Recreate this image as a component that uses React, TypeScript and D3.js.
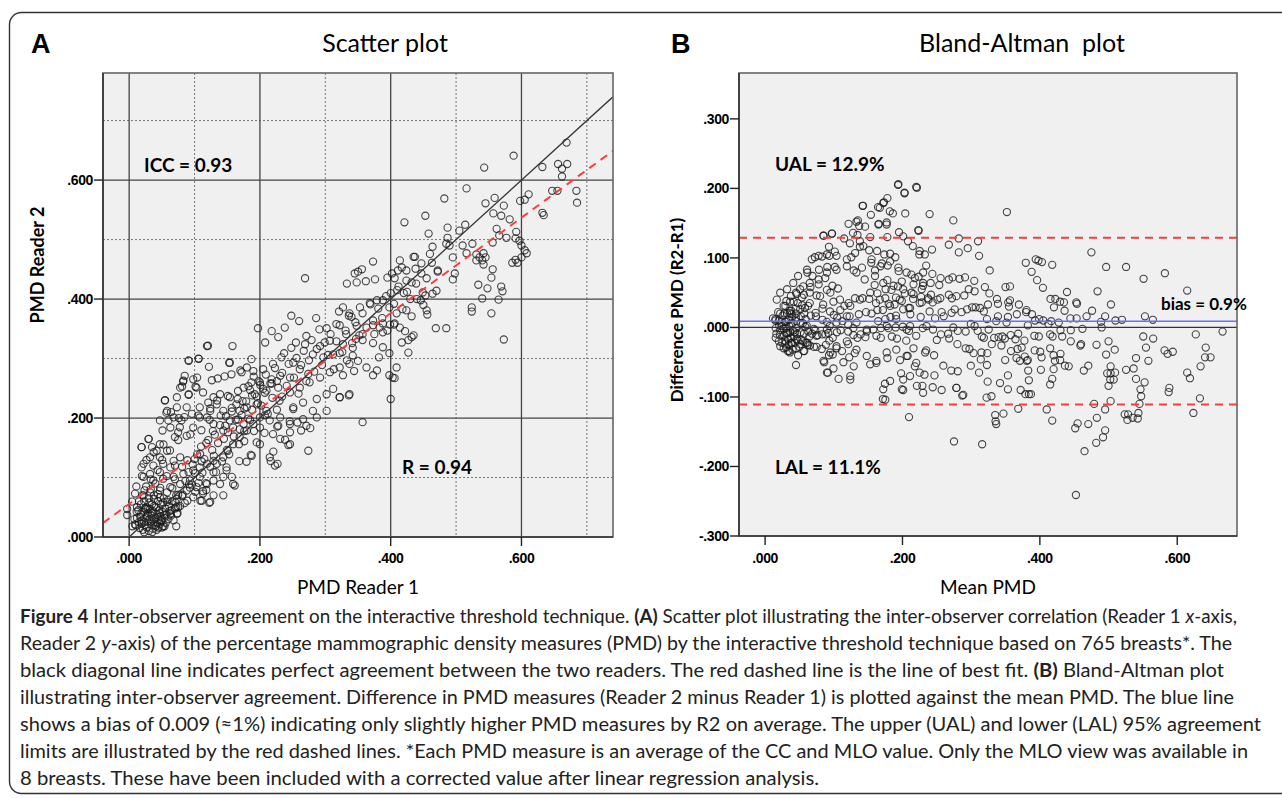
import React from "react";
import * as d3 from "d3";

// ---------------- DATA ----------------
// Panel A readings: [PMD Reader 1, PMD Reader 2]
const lowCluster: number[][] = [
  [0.010,0.020],[0.012,0.032],[0.014,0.045],[0.015,0.025],[0.016,0.015],[0.018,0.038],[0.018,0.055],[0.020,0.028],[0.021,0.012],[0.022,0.042],
  [0.023,0.060],[0.024,0.020],[0.025,0.033],[0.026,0.050],[0.027,0.016],[0.028,0.026],[0.029,0.040],[0.030,0.065],[0.030,0.010],[0.031,0.030],
  [0.032,0.047],[0.033,0.022],[0.034,0.036],[0.035,0.055],[0.036,0.014],[0.036,0.028],[0.037,0.043],[0.038,0.070],[0.039,0.020],[0.040,0.033],
  [0.041,0.050],[0.042,0.025],[0.043,0.038],[0.044,0.060],[0.045,0.016],[0.045,0.030],[0.046,0.045],[0.047,0.022],[0.048,0.035],[0.049,0.055],
  [0.050,0.028],[0.051,0.042],[0.052,0.018],[0.053,0.065],[0.054,0.032],[0.055,0.048],[0.056,0.024],[0.057,0.038],[0.058,0.075],[0.060,0.030],
  [0.061,0.052],[0.062,0.044],[0.064,0.036],[0.066,0.060],[0.068,0.028],[0.070,0.048],[0.072,0.070],[0.074,0.040],[0.020,0.070],[0.026,0.085],
  [0.015,0.060],[0.008,0.030],[0.012,0.050],[0.005,0.018],[0.033,0.080],[0.040,0.090],[0.019,0.022],[0.027,0.035],[0.034,0.026],[0.041,0.018],
  [0.047,0.040],[0.024,0.048],[0.031,0.058],[0.038,0.052],[0.044,0.072],[0.052,0.058],[0.059,0.062],[0.065,0.045],[0.071,0.058],[0.017,0.034],
  [0.023,0.008],[0.029,0.048],[0.035,0.040],[0.042,0.012],[0.049,0.026],[0.050,0.016]
];
const leftMid: number[][] = [
  [0.030,0.165],[0.019,0.151],[0.035,0.151],[0.047,0.156],[0.042,0.145],[0.058,0.145],[0.047,0.134],[0.032,0.134],[0.022,0.123],[0.037,0.120],
  [0.052,0.123],[0.068,0.128],[0.078,0.134],[0.063,0.117],[0.047,0.109],[0.032,0.106],[0.022,0.101],[0.037,0.095],[0.052,0.098],[0.068,0.101],
  [0.083,0.106],[0.098,0.112],[0.108,0.117],[0.119,0.123],[0.129,0.128],[0.108,0.101],[0.093,0.095],[0.078,0.089],[0.063,0.084],[0.047,0.078],
  [0.032,0.075],[0.022,0.070],[0.088,0.078],[0.103,0.084],[0.119,0.089],[0.129,0.095],[0.113,0.073],[0.098,0.067],[0.073,0.064],[0.058,0.059],
  [0.075,0.050],[0.063,0.039],[0.047,0.067],[0.073,0.039],[0.072,0.018],[0.144,0.070],[0.124,0.059],[0.111,0.061],[0.159,0.089],[0.144,0.101]
];
const upperLeft: number[][] = [
  [0.055,0.230],[0.083,0.263],[0.078,0.251],[0.091,0.240],[0.103,0.251],[0.113,0.243],[0.098,0.265],[0.085,0.271],[0.073,0.235],[0.058,0.212],
  [0.068,0.201],[0.080,0.196],[0.096,0.207],[0.108,0.218],[0.121,0.226],[0.108,0.201],[0.088,0.218],[0.073,0.218],[0.047,0.196],[0.063,0.184],
  [0.075,0.176],[0.088,0.170],[0.098,0.184],[0.119,0.321],[0.158,0.321],[0.091,0.296],[0.106,0.300],[0.154,0.293]
];
const midBand: number[][] = [
  [0.210,0.212],[0.200,0.201],[0.190,0.190],[0.180,0.179],[0.169,0.168],[0.159,0.156],[0.151,0.145],[0.144,0.134],[0.134,0.123],[0.149,0.112],
  [0.157,0.101],[0.139,0.089],[0.129,0.070],[0.169,0.212],[0.154,0.196],[0.144,0.212],[0.134,0.223],[0.129,0.235],[0.139,0.240],[0.154,0.235],
  [0.164,0.223],[0.180,0.218],[0.195,0.223],[0.124,0.212],[0.119,0.201],[0.129,0.190],[0.144,0.179],[0.159,0.184],[0.175,0.190],[0.200,0.184],
  [0.215,0.196],[0.231,0.201],[0.246,0.190],[0.200,0.156]
];
const denseBand: number[][] = [
  [0.078,0.052],[0.082,0.071],[0.086,0.094],[0.089,0.061],[0.093,0.083],[0.097,0.122],[0.101,0.076],[0.104,0.139],[0.106,0.091],[0.110,0.152],
  [0.112,0.108],[0.115,0.131],[0.118,0.079],[0.121,0.163],[0.124,0.118],[0.127,0.146],[0.131,0.172],[0.133,0.109],[0.136,0.158],[0.139,0.188],
  [0.142,0.127],[0.145,0.165],[0.148,0.203],[0.151,0.176],[0.153,0.139],[0.157,0.211],[0.160,0.169],[0.163,0.197],[0.166,0.232],[0.169,0.181],
  [0.172,0.205],[0.176,0.161],[0.179,0.228],[0.182,0.199],[0.185,0.247],[0.188,0.214],[0.191,0.178],[0.195,0.236],[0.198,0.262],[0.202,0.221],
  [0.205,0.249],[0.209,0.273],[0.212,0.207],[0.216,0.258],[0.219,0.234],[0.223,0.284],[0.226,0.262],[0.230,0.229],[0.234,0.276],[0.237,0.309],
  [0.241,0.254],[0.244,0.291],[0.248,0.318],[0.252,0.268],[0.256,0.301],[0.259,0.241],[0.263,0.289],[0.267,0.313],[0.271,0.262],[0.275,0.297],
  [0.279,0.331],[0.283,0.278],[0.287,0.316],[0.291,0.349],[0.295,0.289],[0.299,0.327],[0.304,0.306],[0.308,0.341],[0.313,0.282],[0.317,0.329],
  [0.322,0.356],[0.326,0.311],[0.331,0.347],[0.336,0.372],[0.341,0.326],[0.346,0.361],[0.352,0.339],[0.357,0.376],[0.363,0.352],[0.369,0.391],
  [0.375,0.341],[0.381,0.384],[0.387,0.368],[0.393,0.405],[0.399,0.357],[0.405,0.392],[0.412,0.421],[0.418,0.383],[0.425,0.412],[0.432,0.371],
  [0.439,0.426],[0.446,0.398],[0.066,0.082],[0.070,0.097],[0.075,0.071],[0.081,0.118],[0.085,0.057],[0.091,0.109],[0.096,0.088],[0.100,0.131]
];
const upperBand: number[][] = [
  [0.197,0.351],[0.218,0.346],[0.228,0.336],[0.238,0.352],[0.208,0.327],[0.248,0.372],[0.260,0.363],[0.271,0.338],[0.269,0.324],[0.255,0.327],
  [0.286,0.368],[0.302,0.351],[0.317,0.358],[0.332,0.341],[0.340,0.370],[0.348,0.355],[0.327,0.324],[0.307,0.330],[0.292,0.321],[0.281,0.307],
  [0.297,0.302],[0.312,0.307],[0.342,0.318],[0.321,0.379],[0.187,0.299],[0.180,0.285],[0.172,0.277],[0.190,0.279],[0.205,0.282],[0.220,0.291],
  [0.233,0.302],[0.251,0.293],[0.261,0.282],[0.274,0.274],[0.246,0.268],[0.231,0.271],[0.218,0.265],[0.200,0.260],[0.187,0.260],[0.175,0.251],
  [0.192,0.240],[0.210,0.246],[0.228,0.251],[0.246,0.243],[0.261,0.251],[0.276,0.260],[0.292,0.268],[0.307,0.277],[0.322,0.285],[0.337,0.291],
  [0.350,0.296],[0.269,0.435]
];
const belowBand: number[][] = [
  [0.287,0.232],[0.281,0.212],[0.271,0.187],[0.274,0.145],[0.246,0.156],[0.231,0.165],[0.220,0.173],[0.215,0.134],[0.223,0.120],[0.228,0.187],
  [0.251,0.218],[0.266,0.226],[0.302,0.240],[0.312,0.249],[0.322,0.235],[0.337,0.240],[0.302,0.212],[0.287,0.201],[0.266,0.198]
];
const upperRight: number[][] = [
  [0.669,0.663],[0.588,0.641],[0.632,0.622],[0.656,0.627],[0.670,0.627],[0.662,0.619],[0.662,0.606],[0.543,0.621],[0.516,0.586],[0.482,0.569],
  [0.559,0.570],[0.545,0.561],[0.573,0.557],[0.598,0.565],[0.611,0.576],[0.605,0.567],[0.647,0.582],[0.655,0.582],[0.684,0.582],[0.685,0.562],
  [0.632,0.545],[0.634,0.541],[0.557,0.544],[0.569,0.540],[0.582,0.534],[0.453,0.540],[0.421,0.529],[0.458,0.510],[0.487,0.520],[0.514,0.525],
  [0.505,0.515],[0.562,0.518],[0.592,0.513],[0.566,0.507],[0.577,0.503],[0.591,0.502],[0.556,0.495],[0.487,0.503],[0.485,0.493],[0.490,0.490],
  [0.464,0.488],[0.510,0.490],[0.525,0.493],[0.495,0.470],[0.516,0.477],[0.531,0.475],[0.536,0.470],[0.542,0.477],[0.545,0.470],[0.540,0.465],
  [0.531,0.465],[0.542,0.458],[0.597,0.498],[0.600,0.490],[0.605,0.482],[0.608,0.477],[0.600,0.470],[0.586,0.461],[0.594,0.461],[0.591,0.466],
  [0.435,0.471],[0.460,0.476],[0.447,0.460],[0.472,0.448],[0.498,0.443],[0.495,0.433],[0.556,0.450],[0.554,0.436],[0.534,0.424],[0.548,0.418],
  [0.569,0.421],[0.571,0.413],[0.540,0.401],[0.565,0.399],[0.524,0.386],[0.524,0.379],[0.554,0.376],[0.469,0.351],[0.485,0.351],[0.373,0.463],
  [0.350,0.446],[0.345,0.443],[0.356,0.450],[0.333,0.426],[0.348,0.428],[0.362,0.430],[0.376,0.433],[0.395,0.436],[0.402,0.443],[0.406,0.435],
  [0.414,0.465],[0.417,0.453],[0.411,0.448],[0.424,0.448],[0.424,0.431],[0.432,0.428],[0.437,0.471],[0.438,0.451],[0.447,0.443],[0.455,0.435],
  [0.463,0.461],[0.472,0.446],[0.449,0.411],[0.453,0.406],[0.464,0.409],[0.470,0.414],[0.400,0.410],[0.410,0.415],[0.420,0.410],[0.430,0.400],
  [0.440,0.400],[0.450,0.390],[0.388,0.398],[0.398,0.386],[0.409,0.376],[0.424,0.381],[0.455,0.381],[0.327,0.386],[0.337,0.376],[0.353,0.386],
  [0.368,0.393],[0.379,0.398],[0.373,0.364],[0.388,0.359],[0.406,0.359]
];
const rightMid: number[][] = [
  [0.573,0.332],[0.456,0.374],[0.435,0.339],[0.427,0.310],[0.409,0.285],[0.403,0.268],[0.400,0.232],[0.357,0.193],[0.336,0.238],[0.322,0.235],
  [0.373,0.272],[0.379,0.280],[0.363,0.285],[0.344,0.279],[0.327,0.272],[0.398,0.272],[0.406,0.267],[0.382,0.302],[0.398,0.309],[0.388,0.319],
  [0.373,0.326],[0.357,0.331],[0.342,0.305],[0.333,0.297],[0.322,0.309],[0.417,0.327],[0.427,0.331],[0.432,0.336],[0.422,0.346],[0.414,0.352],
  [0.405,0.357],[0.395,0.347],[0.388,0.344],[0.383,0.352],[0.373,0.356],[0.357,0.341],[0.347,0.333]
];
// Panel B readings of the dense cloud: [mean PMD, difference R2-R1]
const baCloud: number[][] = [
  [0.194,0.206],[0.203,0.193],[0.221,0.201],[0.142,0.175],[0.167,0.172],[0.172,0.179],[0.186,0.164],[0.204,0.164],[0.133,0.152],[0.137,0.146],
  [0.165,0.148],[0.177,0.151],[0.223,0.140],[0.128,0.136],[0.085,0.132],[0.097,0.135],[0.115,0.128],[0.195,0.137],[0.201,0.131],[0.208,0.124],
  [0.215,0.117],[0.225,0.110],[0.138,0.124],[0.143,0.117],[0.131,0.107],[0.119,0.098],[0.104,0.103],[0.090,0.105],[0.078,0.103],[0.068,0.098],
  [0.155,0.098],[0.170,0.092],[0.182,0.095],[0.194,0.086],[0.206,0.079],[0.218,0.071],[0.230,0.079],[0.061,0.083],[0.048,0.074],[0.041,0.064],
  [0.032,0.055],[0.022,0.050],[0.051,0.055],[0.065,0.064],[0.078,0.069],[0.090,0.079],[0.104,0.083],[0.119,0.088],[0.133,0.079],[0.145,0.069],
  [0.160,0.074],[0.172,0.064],[0.187,0.060],[0.201,0.055],[0.213,0.050],[0.228,0.055],[0.017,0.040],[0.027,0.031],[0.036,0.021],[0.051,0.026],
  [0.065,0.035],[0.080,0.045],[0.095,0.050],[0.109,0.040],[0.124,0.031],[0.138,0.040],[0.153,0.050],[0.167,0.040],[0.182,0.031],[0.196,0.040],
  [0.211,0.028],[0.225,0.035],[0.238,0.040],[0.015,0.012],[0.024,0.002],[0.034,-0.008],[0.046,-0.017],[0.061,-0.022],[0.075,-0.012],[0.090,-0.003],
  [0.104,0.007],[0.119,0.016],[0.133,0.007],[0.148,-0.003],[0.162,-0.012],[0.177,0.002],[0.191,0.012],[0.206,-0.003],[0.220,-0.012],[0.235,0.002],
  [0.022,-0.027],[0.036,-0.036],[0.085,-0.048],[0.095,-0.036],[0.104,-0.027],[0.119,-0.020],[0.133,-0.032],[0.148,-0.041],[0.162,-0.051],
  [0.177,-0.036],[0.191,-0.032],[0.206,-0.041],[0.220,-0.051],[0.233,-0.036],[0.090,-0.065],[0.124,-0.075],[0.153,-0.053],[0.162,-0.048],
  [0.172,-0.089],[0.182,-0.077],[0.199,-0.089],[0.201,-0.075],[0.211,-0.070],[0.221,-0.084],[0.230,-0.094],[0.175,-0.104],[0.225,-0.065]
];

const readerPairs: number[][] = [
  ...lowCluster, ...leftMid, ...upperLeft, ...midBand, ...denseBand, ...upperBand, ...belowBand, ...upperRight, ...rightMid,
  ...baCloud.map(([m, d]) => [m - d / 2, m + d / 2]),
];
const baPoints = readerPairs.map(([r1, r2]) => [(r1 + r2) / 2, r2 - r1]);

// statistics printed on the figure
const fitIntercept = 0.0556;
const fitSlope = 0.802;
const bias = 0.009;
const ual = 0.129;
const lal = -0.111;

const ticksMajorA = [0, 0.2, 0.4, 0.6];
const ticksMinorA = [0.1, 0.3, 0.5, 0.7];
const yTicksA = [0, 0.2, 0.4, 0.6];
const xTicksB = [0, 0.2, 0.4, 0.6];
const yTicksB = [-0.3, -0.2, -0.1, 0, 0.1, 0.2, 0.3];

const captionLines: { text: string; bold?: boolean; italic?: boolean }[][] = [
  [{ text: "Figure 4", bold: true }, { text: " Inter-observer agreement on the interactive threshold technique. " }, { text: "(A)", bold: true }, { text: " Scatter plot illustrating the inter-observer correlation (Reader 1 " }, { text: "x", italic: true }, { text: "-axis," }],
  [{ text: "Reader 2 " }, { text: "y", italic: true }, { text: "-axis) of the percentage mammographic density measures (PMD) by the interactive threshold technique based on 765 breasts*. The" }],
  [{ text: "black diagonal line indicates perfect agreement between the two readers. The red dashed line is the line of best fit. " }, { text: "(B)", bold: true }, { text: " Bland-Altman plot" }],
  [{ text: "illustrating inter-observer agreement. Difference in PMD measures (Reader 2 minus Reader 1) is plotted against the mean PMD. The blue line" }],
  [{ text: "shows a bias of 0.009 (\u22481%) indicating only slightly higher PMD measures by R2 on average. The upper (UAL) and lower (LAL) 95% agreement" }],
  [{ text: "limits are illustrated by the red dashed lines. *Each PMD measure is an average of the CC and MLO value. Only the MLO view was available in" }],
  [{ text: "8 breasts. These have been included with a corrected value after linear regression analysis." }],
];
const captionEnds = [1237, 1232, 1224, 1234, 1261, 1248, 819];

// ---------------- LAYOUT ----------------
const W = 1282, H = 798;
const A = { l: 103, r: 613, t: 73, b: 537 };
const B = { l: 739, r: 1237, t: 73, b: 536 };
const xA = d3.scaleLinear().domain([-0.04, 0.74]).range([A.l, A.r]);
const yA = d3.scaleLinear().domain([0, 0.78]).range([A.b, A.t]);
const xB = d3.scaleLinear().domain([-0.038, 0.687]).range([B.l, B.r]);
const yB = d3.scaleLinear().domain([-0.3, 0.366]).range([B.b, B.t]);

const fmt = (v: number) => (v < 0 ? "-" : "") + Math.abs(v).toFixed(3).replace(/^0/, "");
const sans = "Lato, 'Open Sans', sans-serif";
const tickFont = "'Liberation Sans', Arial, sans-serif";
const bg = "#f0f0f0";
const red = "#ff3b3b";
const capX = 20;

export default function App() {
  const fitLine = d3.line<number>().x((v) => xA(v)).y((v) => yA(fitIntercept + fitSlope * v));
  const idLine = d3.line<number>().x((v) => xA(v)).y((v) => yA(v));
  return (
    <svg width={W} height={H} style={{ position: "absolute", left: 0, top: 0, background: "#fff" }}>
      <defs>
        <clipPath id="clipA"><rect x={A.l} y={A.t} width={A.r - A.l} height={A.b - A.t} /></clipPath>
        <clipPath id="clipB"><rect x={B.l} y={B.t} width={B.r - B.l} height={B.b - B.t} /></clipPath>
      </defs>
      <rect x={9.5} y={12.5} width={1320} height={781} rx={12} fill="none" stroke="#333" strokeWidth={1.4} />

      {/* Panel A */}
      <text x={31} y={53} fontFamily={tickFont} fontWeight="bold" fontSize={27}>A</text>
      <text x={385} y={52} textAnchor="middle" fontFamily={sans} fontSize={25}>Scatter plot</text>
      <rect x={A.l} y={A.t} width={A.r - A.l} height={A.b - A.t} fill={bg} />
      <g>
        {ticksMinorA.map((v) => (
          <line key={"vx" + v} x1={xA(v)} x2={xA(v)} y1={A.t} y2={A.b} stroke="#777" strokeWidth={1} strokeDasharray="2,2" />
        ))}
        {ticksMinorA.map((v) => (
          <line key={"hy" + v} x1={A.l} x2={A.r} y1={yA(v)} y2={yA(v)} stroke="#777" strokeWidth={1} strokeDasharray="2,2" />
        ))}
        {ticksMajorA.map((v) => (
          <line key={"vX" + v} x1={xA(v)} x2={xA(v)} y1={A.t} y2={A.b} stroke="#444" strokeWidth={1.3} />
        ))}
        {yTicksA.filter((v) => v > 0).map((v) => (
          <line key={"hY" + v} x1={A.l} x2={A.r} y1={yA(v)} y2={yA(v)} stroke="#444" strokeWidth={1.3} />
        ))}
      </g>
      <g clipPath="url(#clipA)">
        {readerPairs.map(([r1, r2], i) => (
          <circle key={i} cx={xA(r1)} cy={yA(r2)} r={3.6} fill="none" stroke="#1a1a1a" strokeOpacity={0.8} strokeWidth={1.1} />
        ))}
        <path d={idLine([0, 0.74]) || ""} stroke="#333" strokeWidth={1.3} fill="none" />
        <path d={fitLine([-0.04, 0.74]) || ""} stroke={red} strokeWidth={2} strokeDasharray="8,6" fill="none" />
      </g>
      <rect x={A.l} y={A.t} width={A.r - A.l} height={A.b - A.t} fill="none" stroke="#666" strokeWidth={1.6} />
      <line x1={A.l} x2={A.l} y1={A.t} y2={A.b} stroke="#333" strokeWidth={1.6} />
      <line x1={A.l} x2={A.r} y1={A.b} y2={A.b} stroke="#333" strokeWidth={1.6} />
      {yTicksA.map((v) => (
        <g key={"ya" + v}>
          <line x1={A.l - 9} x2={A.l} y1={yA(v)} y2={yA(v)} stroke="#222" strokeWidth={1.4} />
          <text x={A.l - 10} y={yA(v) + 5} textAnchor="end" fontFamily={tickFont} fontWeight="bold" fontSize={14} letterSpacing={-0.4}>{fmt(v)}</text>
        </g>
      ))}
      {ticksMajorA.map((v) => (
        <g key={"xa" + v}>
          <line x1={xA(v)} x2={xA(v)} y1={A.b} y2={A.b + 9} stroke="#222" strokeWidth={1.4} />
          <text x={xA(v)} y={A.b + 26} textAnchor="middle" fontFamily={tickFont} fontWeight="bold" fontSize={14} letterSpacing={-0.4}>{fmt(v)}</text>
        </g>
      ))}
      <text x={144} y={172} fontFamily={sans} fontWeight="bold" fontSize={19}>ICC = 0.93</text>
      <text x={402} y={474} fontFamily={sans} fontWeight="bold" fontSize={19}>R = 0.94</text>
      <text x={(A.l + A.r) / 2} y={594} textAnchor="middle" fontFamily={sans} fontSize={19}>PMD Reader 1</text>
      <text transform="translate(44,265) rotate(-90)" textAnchor="middle" fontFamily={sans} fontWeight="bold" fontSize={18}>PMD Reader 2</text>

      {/* Panel B */}
      <text x={671} y={53} fontFamily={tickFont} fontWeight="bold" fontSize={27}>B</text>
      <text x={1022} y={52} textAnchor="middle" fontFamily={sans} fontSize={25} style={{ whiteSpace: "pre" }}>{"Bland-Altman  plot"}</text>
      <rect x={B.l} y={B.t} width={B.r - B.l} height={B.b - B.t} fill={bg} />
      <g clipPath="url(#clipB)">
        {baPoints.map(([m, d], i) => (
          <circle key={i} cx={xB(m)} cy={yB(d)} r={3.6} fill="none" stroke="#1a1a1a" strokeOpacity={0.8} strokeWidth={1.1} />
        ))}
        <line x1={B.l} x2={B.r} y1={yB(0)} y2={yB(0)} stroke="#333" strokeWidth={1.2} />
        <line x1={B.l} x2={B.r} y1={yB(bias)} y2={yB(bias)} stroke="#6f6ff2" strokeWidth={1.6} />
        <line x1={B.l} x2={B.r} y1={yB(ual)} y2={yB(ual)} stroke={red} strokeWidth={2} strokeDasharray="8,6" />
        <line x1={B.l} x2={B.r} y1={yB(lal)} y2={yB(lal)} stroke={red} strokeWidth={2} strokeDasharray="8,6" />
      </g>
      <rect x={B.l} y={B.t} width={B.r - B.l} height={B.b - B.t} fill="none" stroke="#666" strokeWidth={1.6} />
      <line x1={B.l} x2={B.l} y1={B.t} y2={B.b} stroke="#333" strokeWidth={1.6} />
      <line x1={B.l} x2={B.r} y1={B.b} y2={B.b} stroke="#333" strokeWidth={1.6} />
      {yTicksB.map((v) => (
        <g key={"yb" + v}>
          <line x1={B.l - 9} x2={B.l} y1={yB(v)} y2={yB(v)} stroke="#222" strokeWidth={1.4} />
          <text x={B.l - 10} y={yB(v) + 5} textAnchor="end" fontFamily={tickFont} fontWeight="bold" fontSize={14} letterSpacing={-0.4}>{fmt(v)}</text>
        </g>
      ))}
      {xTicksB.map((v) => (
        <g key={"xb" + v}>
          <line x1={xB(v)} x2={xB(v)} y1={B.b} y2={B.b + 9} stroke="#222" strokeWidth={1.4} />
          <text x={xB(v)} y={B.b + 27} textAnchor="middle" fontFamily={tickFont} fontWeight="bold" fontSize={14} letterSpacing={-0.4}>{fmt(v)}</text>
        </g>
      ))}
      <text x={775} y={171} fontFamily={sans} fontWeight="bold" fontSize={19}>UAL = 12.9%</text>
      <text x={775} y={474} fontFamily={sans} fontWeight="bold" fontSize={19}>LAL = 11.1%</text>
      <text x={1161} y={310} fontFamily={sans} fontWeight="bold" fontSize={17}>bias = 0.9%</text>
      <text x={(B.l + B.r) / 2} y={594} textAnchor="middle" fontFamily={sans} fontSize={19}>Mean PMD</text>
      <text transform="translate(683,310) rotate(-90)" textAnchor="middle" fontFamily={sans} fontWeight="bold" fontSize={17}>Difference PMD (R2-R1)</text>

      {/* Caption */}
      {captionLines.map((parts, i) => (
        <text key={"cap" + i} x={capX} y={623 + i * 27} fontFamily={sans} fontSize={18.5} fill="#222"
          textLength={captionEnds[i] - capX} lengthAdjust="spacingAndGlyphs" style={{ whiteSpace: "pre" }}>
          {parts.map((p, j) => (
            <tspan key={j} fontWeight={p.bold ? "bold" : "normal"} fontStyle={p.italic ? "italic" : "normal"}>{p.text}</tspan>
          ))}
        </text>
      ))}
    </svg>
  );
}
